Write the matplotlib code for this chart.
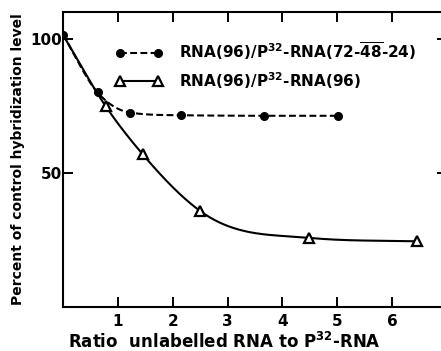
import numpy as np
import matplotlib
matplotlib.use("Agg")
import matplotlib.pyplot as plt
from matplotlib.lines import Line2D

# --- DATA ---
start_x, start_y = 0.0, 101.5          # common control point
circle_x = [0.63, 1.22, 2.16, 3.67, 5.02]
circle_y = [80.0, 72.5, 71.5, 71.3, 71.3]
tri_x = [0.78, 1.45, 2.50, 4.48, 6.46]
tri_y = [74.8, 57.0, 35.8, 25.8, 24.5]

x_ticks = [1, 2, 3, 4, 5, 6]
y_ticks = [50, 100]
label_circle = r"RNA(96)/P$^{\mathbf{32}}$-RNA(72-$\overline{\mathbf{48}}$-24)"
label_tri = r"RNA(96)/P$^{\mathbf{32}}$-RNA(96)"


def smooth(x, y, n=300):
    # hand-drawn looking curve: cubic Hermite with 3-point slopes, limited so it stays monotone
    x = np.asarray(x, float)
    y = np.asarray(y, float)
    h = np.diff(x)
    d = np.diff(y) / h
    m = np.zeros_like(x)
    m[0], m[-1] = d[0], d[-1]
    for k in range(1, len(x) - 1):
        m[k] = (h[k] * d[k - 1] + h[k - 1] * d[k]) / (h[k - 1] + h[k])
        if d[k - 1] * d[k] <= 0:
            m[k] = 0
    for k in range(len(d)):
        if d[k] == 0:
            m[k] = m[k + 1] = 0
            continue
        a, b = m[k] / d[k], m[k + 1] / d[k]
        r = a * a + b * b
        if r > 9:
            s = 3 / np.sqrt(r)
            m[k], m[k + 1] = s * a * d[k], s * b * d[k]
    xs = np.linspace(x[0], x[-1], n)
    idx = np.clip(np.searchsorted(x, xs) - 1, 0, len(x) - 2)
    t = (xs - x[idx]) / h[idx]
    h00 = 2 * t**3 - 3 * t**2 + 1
    h10 = t**3 - 2 * t**2 + t
    h01 = -2 * t**3 + 3 * t**2
    h11 = t**3 - t**2
    ys = h00 * y[idx] + h10 * h[idx] * m[idx] + h01 * y[idx + 1] + h11 * h[idx] * m[idx + 1]
    return xs, ys


plt.rcParams['font.family'] = 'DejaVu Sans'
plt.rcParams['font.weight'] = 'bold'
plt.rcParams['axes.labelweight'] = 'bold'
plt.rcParams['mathtext.default'] = 'bf'

fig = plt.figure(figsize=(4.41, 3.51), dpi=100)
ax = fig.add_axes([63 / 441, 44 / 351, 384 / 441, 295 / 351])

cx = [start_x] + circle_x
cy = [start_y] + circle_y
tx = [start_x] + tri_x
ty = [start_y] + tri_y

sx, sy = smooth(cx, cy)
ax.plot(sx, sy, color='black', lw=1.5, dashes=(3.3, 1.6), zorder=2)
ax.plot(cx, cy, 'o', color='black', ms=5.5, zorder=3)

sx, sy = smooth(tx, ty)
ax.plot(sx, sy, color='black', lw=1.5, zorder=2)
ax.plot(tri_x, tri_y, '^', mfc='white', mec='black', mew=1.6, ms=7, zorder=3)

ax.set_xlim(0, 7)
ax.set_ylim(0, 110)
ax.set_xticks(x_ticks)
ax.set_xticklabels([str(v) for v in x_ticks])
ax.set_yticks(y_ticks)
ax.tick_params(direction='in', length=7, width=1.4, labelsize=11, pad=5,
               top=True, right=True)
ax.tick_params(axis='y', pad=0.5)
for s in ax.spines.values():
    s.set_linewidth(1.5)
ax.spines['right'].set_visible(False)

ax.set_xlabel(r"Ratio  unlabelled RNA to P$^{\mathbf{32}}$-RNA", fontsize=12)
ax.xaxis.set_label_coords(0.42, -0.085)
ax.set_ylabel("Percent of control hybridization level", fontsize=10)
ax.yaxis.set_label_coords(-0.10, 0.5)

h1 = Line2D([], [], color='black', lw=1.5, dashes=(3.3, 1.6), marker='o', ms=5.5)
h2 = Line2D([], [], color='black', lw=1.5, marker='^', mfc='white', mew=1.6, ms=7)
ax.legend([h1, h2], [label_circle, label_tri], loc='upper left',
          bbox_to_anchor=(0.1, 0.95), frameon=False, numpoints=2,
          handlelength=3.1, handletextpad=1.1, labelspacing=0.5, fontsize=11)

fig.savefig("out.png", dpi=100)
